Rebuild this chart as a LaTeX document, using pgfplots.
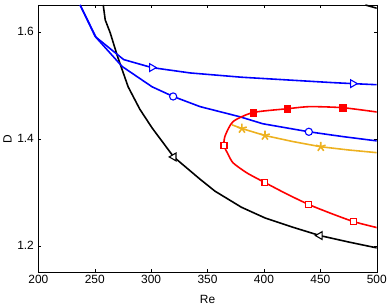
\documentclass[border=0pt]{standalone}
\usepackage{pgfplots}
\pgfplotsset{compat=1.18}
\usepackage{fontspec}
\setmainfont{Liberation Sans}
\definecolor{myyellow}{rgb}{0.929,0.694,0.125}
\begin{document}
\begin{tikzpicture}[x=1bp,y=1bp]
\begin{axis}[name=ax,
  scale only axis, width=339bp, height=268bp,
  xmin=200, xmax=500, ymin=1.15, ymax=1.65,
  xtick={200,250,...,500}, ytick={1.2,1.4,1.6},
  yticklabel style={/pgf/number format/fixed,/pgf/number format/precision=1,/pgf/number format/fixed zerofill},
  /pgf/number format/assume math mode=true,
  tick align=inside, tick style={black, thin}, major tick length=3bp,
  xlabel={Re}, ylabel={D},
  xlabel style={at={(axis description cs:0.5,0)}, anchor=center, yshift=-27bp},
  ylabel style={at={(axis description cs:0,0.5)}, anchor=center, yshift=31bp},
  xticklabel style={yshift=1bp},
  yticklabel style={xshift=-1bp},
  ticklabel style={font=\fontsize{12}{14}\selectfont},
  label style={font=\fontsize{12}{14}\selectfont},
  axis line style={black, thin},
  clip=true,
  curve/.style={line width=1.6pt},
]
% black curve
\addplot[black, no marks, curve] coordinates {
(257.5,1.65) (259.3,1.622) (263.7,1.598) (270,1.555) (279.6,1.497) (290,1.455) (300.9,1.42) (320,1.366) (343,1.325) (356.6,1.302) (380,1.272) (400.9,1.252) (425,1.235) (449.6,1.219) (475,1.207) (500,1.196)};
\addplot[black, only marks, mark=triangle*, mark options={draw=black, rotate=90, fill=white, line width=1.1pt}, mark size=4.5bp] coordinates {(320,1.366) (449.6,1.219)};
\addplot[black, no marks, curve] coordinates {(490,1.65) (500,1.644)};
% blue triangle curve
\addplot[blue, no marks, curve] coordinates {
(237,1.65) (250.4,1.591) (275.6,1.548) (300.6,1.533) (334.5,1.523) (380,1.515) (420,1.51) (460,1.505) (478.8,1.503) (500,1.501)};
\addplot[blue, only marks, mark=triangle*, mark options={draw=blue, rotate=-90, fill=white, line width=1.1pt}, mark size=4.5bp] coordinates {(300.6,1.533) (478.8,1.503)};
% blue circle curve
\addplot[blue, no marks, curve] coordinates {
(237,1.65) (251.3,1.589) (274.3,1.535) (300.9,1.497) (319.5,1.479) (343.4,1.46) (378.8,1.441) (399,1.428) (439.8,1.413) (470,1.404) (500,1.396)};
\addplot[blue, only marks, mark=*, mark options={draw=blue, fill=white, line width=1.1pt}, mark size=3.6bp] coordinates {(319.5,1.479) (439.8,1.413)};
% red curve
\addplot[red, no marks, smooth, tension=0.4, curve] coordinates {
(500,1.45) (470,1.458) (440.7,1.46) (420.4,1.456) (390.3,1.449) (372.6,1.432) (365.5,1.405) (364.6,1.387) (368,1.372) (372.6,1.355) (385,1.336) (400.9,1.318) (420,1.297) (439.8,1.277) (460,1.26) (479.6,1.245) (500,1.234)};
\addplot[red, only marks, mark=square*, mark options={draw=red, fill=red}, mark size=3.2bp] coordinates {(390.3,1.449) (420.4,1.456) (470,1.458)};
\addplot[red, only marks, mark=square*, mark options={draw=red, fill=white, line width=1.1pt}, mark size=3bp] coordinates {(364.6,1.387) (400.9,1.318) (439.8,1.277) (479.6,1.245)};
% yellow curve
\addplot[myyellow, no marks, curve] coordinates {
(371.7,1.426) (380.5,1.419) (400.9,1.406) (425,1.395) (450.4,1.385) (475,1.379) (500,1.374)};
\addplot[myyellow, only marks, mark=star, mark options={draw=myyellow, line width=1.6pt}, mark size=5bp] coordinates {(380.5,1.419) (400.9,1.406) (450.4,1.385)};
\end{axis}
\path ([xshift=-38bp,yshift=-31bp]ax.south west) rectangle ([xshift=13bp,yshift=5bp]ax.north east);
\end{tikzpicture}
\end{document}
